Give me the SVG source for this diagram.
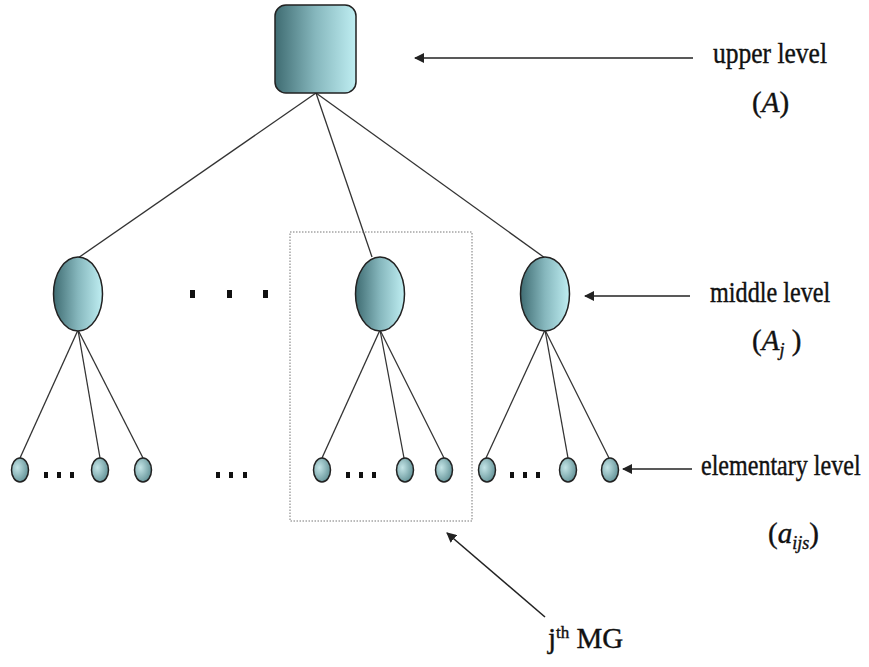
<svg xmlns="http://www.w3.org/2000/svg" width="869" height="667" viewBox="0 0 869 667">
<defs>
<linearGradient id="g" x1="0" y1="0" x2="1" y2="0">
<stop offset="0" stop-color="#3f6c72"/>
<stop offset="0.5" stop-color="#86b7bd"/>
<stop offset="1" stop-color="#bfeef2"/>
</linearGradient>
<radialGradient id="gs" cx="0.35" cy="0.4" r="0.7">
<stop offset="0" stop-color="#c3e4e6"/>
<stop offset="1" stop-color="#5f8f94"/>
</radialGradient>
<marker id="ah" viewBox="0 0 10 10" refX="9" refY="5" markerWidth="10" markerHeight="10" markerUnits="userSpaceOnUse" orient="auto">
<path d="M0,0 L10,5 L0,10 Z" fill="#222"/>
</marker>
<style>
.node{stroke:#222;stroke-width:1.5}
.big{fill:url(#g)}
.small{fill:url(#gs)}
.edge{stroke:#333;stroke-width:1.3;fill:none}
.arr{stroke:#222;stroke-width:1.6;fill:none;marker-end:url(#ah)}
.t{font-size:29px;fill:#111;stroke:#111;stroke-width:0.4}
.i{font-style:italic}
.dot{fill:#111}
</style>
</defs>
<rect width="869" height="667" fill="#fff"/>
<g id="connectors">
<line class="edge" x1="316" y1="93" x2="78" y2="258"/>
<line class="edge" x1="316" y1="93" x2="372" y2="257"/>
<line class="edge" x1="316" y1="93" x2="545" y2="258"/>
<line class="edge" x1="78" y1="330" x2="20" y2="458"/>
<line class="edge" x1="78" y1="330" x2="100" y2="458"/>
<line class="edge" x1="78" y1="330" x2="143" y2="458"/>
<line class="edge" x1="380" y1="330" x2="322" y2="458"/>
<line class="edge" x1="380" y1="330" x2="404" y2="458"/>
<line class="edge" x1="380" y1="330" x2="444" y2="458"/>
<line class="edge" x1="545" y1="330" x2="486" y2="458"/>
<line class="edge" x1="545" y1="330" x2="568" y2="458"/>
<line class="edge" x1="545" y1="330" x2="609" y2="458"/>
<line class="arr" x1="693" y1="58" x2="415" y2="58"/>
<line class="arr" x1="690" y1="296" x2="585" y2="296"/>
<line class="arr" x1="692" y1="469" x2="623" y2="469"/>
<line class="arr" x1="545" y1="617" x2="447" y2="533"/>
</g>
<rect x="290" y="232" width="182" height="289" fill="none" stroke="#777" stroke-width="1" stroke-dasharray="1.5,1.5"/>
<g id="upper"><rect class="node big" x="275" y="5" width="81" height="88" rx="11"/></g>
<g id="mid1"><ellipse class="node big" cx="78" cy="294" rx="24.5" ry="37"/></g>
<g id="mid2"><ellipse class="node big" cx="380" cy="294" rx="24.5" ry="37"/></g>
<g id="mid3"><ellipse class="node big" cx="545" cy="294" rx="24.5" ry="37"/></g>
<g id="dots-mid">
<rect class="dot" x="190" y="290" width="5" height="8"/>
<rect class="dot" x="227" y="290" width="5" height="8"/>
<rect class="dot" x="263" y="290" width="5" height="8"/>
</g>
<g id="e1"><ellipse class="node small" cx="20" cy="470" rx="8.5" ry="12"/></g>
<g id="e2"><ellipse class="node small" cx="100" cy="470" rx="8.5" ry="12"/></g>
<g id="e3"><ellipse class="node small" cx="143" cy="470" rx="8.5" ry="12"/></g>
<g id="e4"><ellipse class="node small" cx="322" cy="470" rx="8.5" ry="12"/></g>
<g id="e5"><ellipse class="node small" cx="405" cy="470" rx="8.5" ry="12"/></g>
<g id="e6"><ellipse class="node small" cx="444" cy="470" rx="8.5" ry="12"/></g>
<g id="e7"><ellipse class="node small" cx="487" cy="470" rx="8.5" ry="12"/></g>
<g id="e8"><ellipse class="node small" cx="568" cy="470" rx="8.5" ry="12"/></g>
<g id="e9"><ellipse class="node small" cx="610" cy="470" rx="8.5" ry="12"/></g>
<g id="dots-low">
<rect class="dot" x="44" y="472" width="4" height="6"/><rect class="dot" x="57" y="472" width="4" height="6"/><rect class="dot" x="70" y="472" width="4" height="6"/>
<rect class="dot" x="216" y="472" width="4" height="6"/><rect class="dot" x="229" y="472" width="4" height="6"/><rect class="dot" x="243" y="472" width="4" height="6"/>
<rect class="dot" x="346" y="472" width="4" height="6"/><rect class="dot" x="359" y="472" width="4" height="6"/><rect class="dot" x="372" y="472" width="4" height="6"/>
<rect class="dot" x="510" y="472" width="4" height="6"/><rect class="dot" x="523" y="472" width="4" height="6"/><rect class="dot" x="536" y="472" width="4" height="6"/>
</g>
<g id="labels" font-family="'Liberation Serif', 'DejaVu Serif', serif">
<text class="t" transform="translate(713,63) scale(0.88,1)">upper level</text>
<text class="t" x="752" y="112">(<tspan class="i">A</tspan>)</text>
<text class="t" transform="translate(710,302) scale(0.835,1)">middle level</text>
<text class="t" x="752" y="350">(<tspan class="i">A</tspan><tspan class="i" font-size="18" dy="6">j</tspan><tspan dy="-6"> )</tspan></text>
<text class="t" transform="translate(701,475) scale(0.83,1)">elementary level</text>
<text class="t" x="768" y="543">(<tspan class="i">a</tspan><tspan class="i" font-size="18" dy="6">ijs</tspan><tspan dy="-6">)</tspan></text>
<text class="t" x="548" y="648">j<tspan font-size="17" dy="-10">th</tspan><tspan dy="10"> MG</tspan></text>
</g>
</svg>
